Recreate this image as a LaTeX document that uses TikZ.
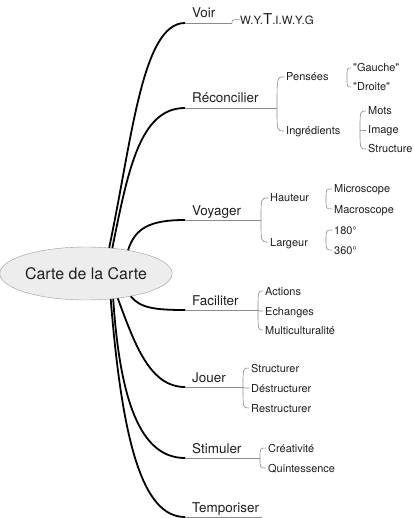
\documentclass[tikz,border=0pt]{standalone}
\usepackage{fontspec}
\setmainfont{TeX Gyre Heros}
\usetikzlibrary{
	calc,
	positioning,
	shapes.geometric,
}
\definecolor{rootfill}{HTML}{EDEDED}
\definecolor{rootline}{HTML}{9A9A9A}
\definecolor{twig}{HTML}{8C8C8C}
\definecolor{ink}{HTML}{1E1E1E}
\tikzset{root node/.style={
	draw=rootline,
	fill=rootfill,
	ellipse,
	minimum width=158bp,
	minimum height=53bp,
	inner sep=0mm,
	font=\fontsize{16}{19}\selectfont,
	text=ink,
}}
\tikzset{main node/.style={
	anchor=base west,
	inner sep=0mm,
	font=\fontsize{13.5}{16}\selectfont,
	text=ink,
}}
\tikzset{leaf node/.style={
	anchor=west,
	inner xsep=2bp,
	inner ysep=0mm,
	text height=8bp,
	text depth=0bp,
	font=\fontsize{11}{13}\selectfont,
	text=ink,
}}
\tikzset{trunk/.style={line width=1.8pt, black}}
\tikzset{twig line/.style={line width=0.6pt, twig}}

\begin{document}
\begin{tikzpicture}[x=1bp, y=-1bp]
\useasboundingbox (0,0) rectangle (413,518);

\node(root)[root node] at (86,273.5) {Carte de la Carte};

% main branches
\node(voir)[main node] at (192,18) {Voir};
\node(rec)[main node] at (192,103) {Réconcilier};
\node(voy)[main node] at (192,215) {Voyager};
\node(fac)[main node] at (192,305) {Faciliter};
\node(jou)[main node] at (192,382) {Jouer};
\node(sti)[main node] at (192,453) {Stimuler};
\node(tem)[main node] at (192,512) {Temporiser};

\coordinate (voir-a) at (185,23);  \coordinate (voir-b) at (232,23);
\coordinate (rec-a) at (185,108);  \coordinate (rec-b) at (277,108);
\coordinate (voy-a) at (185,220);  \coordinate (voy-b) at (261,220);
\coordinate (fac-a) at (185,310);  \coordinate (fac-b) at (258,310);
\coordinate (jou-a) at (185,387);  \coordinate (jou-b) at (243,387);
\coordinate (sti-a) at (185,458);  \coordinate (sti-b) at (260,458);
\coordinate (tem-a) at (185,517);  \coordinate (tem-b) at (262,517);

\draw[trunk] (root.48) .. controls (132,140) and (142,23) .. (voir-a);
\draw[trunk] (root.44) .. controls (128,170) and (140,108) .. (rec-a);
\draw[trunk] (root.29) .. controls (135,228) and (150,220) .. (voy-a);
\draw[trunk] (root.-27) .. controls (140,308) and (155,310) .. (fac-a);
\draw[trunk] (root.-38) .. controls (135,345) and (150,387) .. (jou-a);
\draw[trunk] (root.-43) .. controls (120,400) and (140,458) .. (sti-a);
\draw[trunk] (root.-46) .. controls (122,440) and (142,517) .. (tem-a);

\foreach \b in {voir,rec,voy,fac,jou,sti,tem}
\draw[twig line] (\b-a) -- (\b-b);

% leaves
\node(wyt)[main node] at (240,25) {\fontsize{11.5}{13}\selectfont W.Y.\fontsize{15}{17}\selectfont T\fontsize{11.5}{13}\selectfont .I.W.Y.G};

\node(pens)[leaf node] at (284,77) {Pensées};
\node(ingr)[leaf node] at (284,131) {Ingrédients};
\coordinate (pens-b) at (347,77);
\coordinate (ingr-b) at (360,130);
\node(gau)[leaf node] at (351,68) {\textquotedbl Gauche\textquotedbl};
\node(dro)[leaf node] at (351,87) {\textquotedbl Droite\textquotedbl};
\node(mots)[leaf node] at (366,111) {Mots};
\node(image)[leaf node] at (366,130) {Image};
\node(struct)[leaf node] at (366,149) {Structure};

\node(haut)[leaf node] at (268,198) {Hauteur};
\node(larg)[leaf node] at (268,242) {Largeur};
\coordinate (haut-b) at (326,199);
\coordinate (larg-b) at (326,240);
\node(micro)[leaf node] at (332,189) {Microscope};
\node(macro)[leaf node] at (332,209) {Macroscope};
\node(d180)[leaf node] at (332,230) {180°};
\node(d360)[leaf node] at (332,250) {360°};

\node(act)[leaf node] at (263,291) {Actions};
\node(ech)[leaf node] at (263,311) {Echanges};
\node(mul)[leaf node] at (263,330) {Multiculturalité};

\node(str)[leaf node] at (249,368) {Structurer};
\node(dstr)[leaf node] at (249,388) {Déstructurer};
\node(rstr)[leaf node] at (249,408) {Restructurer};

\node(crea)[leaf node] at (266,448) {Créativité};
\node(quin)[leaf node] at (266,468) {Quintessence};

\foreach \p/\c in {voir/wyt, rec/pens, rec/ingr, pens/gau, pens/dro,
	ingr/mots, ingr/image, ingr/struct, voy/haut, voy/larg,
	haut/micro, haut/macro, larg/d180, larg/d360,
	fac/act, fac/ech, fac/mul, jou/str, jou/dstr, jou/rstr,
	sti/crea, sti/quin}
\draw[twig line] (\p-b) .. controls (\p-b |- \c.west) .. (\c.west);

\end{tikzpicture}
\end{document}
